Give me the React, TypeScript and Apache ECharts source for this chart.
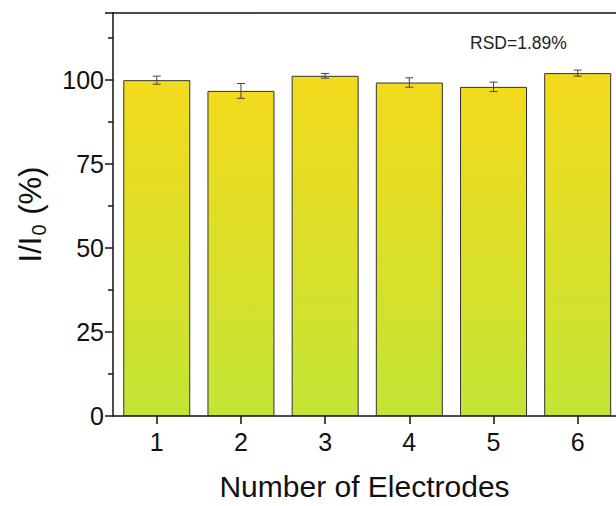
import React, { useEffect, useRef } from "react";
import * as echarts from "echarts";

const electrodes = [1, 2, 3, 4, 5, 6];
const ratios = [100.0, 96.8, 101.3, 99.3, 98.0, 102.1];
const errors = [1.2, 2.2, 0.7, 1.4, 1.4, 0.9];
const yTicks = [0, 25, 50, 75, 100];
const rsdLabel = "RSD=1.89%";

export default function App() {
  const ref = useRef<HTMLDivElement>(null);
  useEffect(() => {
    if (!ref.current) return;
    const chart = echarts.init(ref.current, undefined, { renderer: "svg" });
    const font = "'Liberation Sans', Arial, sans-serif";
    const barData = electrodes.map((x, i) => [x, ratios[i]]);
    const errData = electrodes.map((x, i) => [x, ratios[i] - errors[i], ratios[i] + errors[i]]);
    chart.setOption({
      animation: false,
      grid: { left: 113, right: 0, top: 13, bottom: 87 },
      xAxis: [
        {
          type: "value",
          min: 0.48,
          max: 6.455,
          interval: 1,
          name: "Number of Electrodes",
          nameLocation: "middle",
          nameGap: 55,
          nameTextStyle: { fontSize: 30, color: "#111", fontFamily: font },
          axisLine: { show: true, lineStyle: { color: "#111", width: 1.5 } },
          axisTick: { show: true, inside: false, length: 8, lineStyle: { color: "#111", width: 1.5 }, customValues: electrodes },
          axisLabel: {
            fontSize: 25,
            color: "#111",
            fontFamily: font,
            margin: 13,
            customValues: electrodes,
            formatter: (v: number) => String(v),
          },
          splitLine: { show: false },
        },
        {
          type: "value",
          position: "top",
          min: 0.48,
          max: 6.455,
          axisLine: { show: true, lineStyle: { color: "#111", width: 1.5 } },
          axisTick: { show: false },
          axisLabel: { show: false },
          splitLine: { show: false },
        },
      ],
      yAxis: {
        type: "value",
        min: 0,
        max: 120,
        interval: 25,
        name: "I/I{sub|0} (%)",
        nameLocation: "middle",
        nameGap: 64,
        nameRotate: 90,
        nameTextStyle: {
          fontSize: 31,
          color: "#111",
          fontFamily: font,
          rich: {
            sub: { fontSize: 20, color: "#111", fontFamily: font, padding: [18, 1, 0, 1] },
          },
        },
        axisLine: { show: true, lineStyle: { color: "#111", width: 1.5 } },
        axisTick: { show: true, length: 8, lineStyle: { color: "#111", width: 1.5 } },
        minorTick: { show: true, splitNumber: 2, length: 5, lineStyle: { color: "#111", width: 1.5 } },
        axisLabel: {
          fontSize: 25,
          color: "#111",
          fontFamily: font,
          margin: 9,
          customValues: yTicks,
        },
        splitLine: { show: false },
      },
      graphic: [
        {
          type: "text",
          left: 470,
          top: 34,
          style: { text: rsdLabel, fontSize: 17.5, fill: "#222", fontFamily: font },
        },
      ],
      series: [
        {
          type: "bar",
          data: barData,
          barWidth: 67,
          itemStyle: {
            borderColor: "#333",
            borderWidth: 1,
            color: new echarts.graphic.LinearGradient(0, 0, 0, 1, [
              { offset: 0, color: "#F3DA1C" },
              { offset: 1, color: "#C4E535" },
            ]),
          },
        },
        {
          type: "custom",
          data: errData,
          z: 10,
          renderItem: (params: any, api: any) => {
            const x = api.value(0);
            const lo = api.coord([x, api.value(1)]);
            const hi = api.coord([x, api.value(2)]);
            const w = 4;
            const style = { stroke: "#444", lineWidth: 1 };
            return {
              type: "group",
              children: [
                { type: "line", shape: { x1: lo[0], y1: lo[1], x2: hi[0], y2: hi[1] }, style },
                { type: "line", shape: { x1: lo[0] - w, y1: lo[1], x2: lo[0] + w, y2: lo[1] }, style },
                { type: "line", shape: { x1: hi[0] - w, y1: hi[1], x2: hi[0] + w, y2: hi[1] }, style },
              ],
            };
          },
        },
      ],
    });
    return () => chart.dispose();
  }, []);
  return <div ref={ref} style={{ width: 616, height: 506, position: "absolute", left: 0, top: 0 }} />;
}
